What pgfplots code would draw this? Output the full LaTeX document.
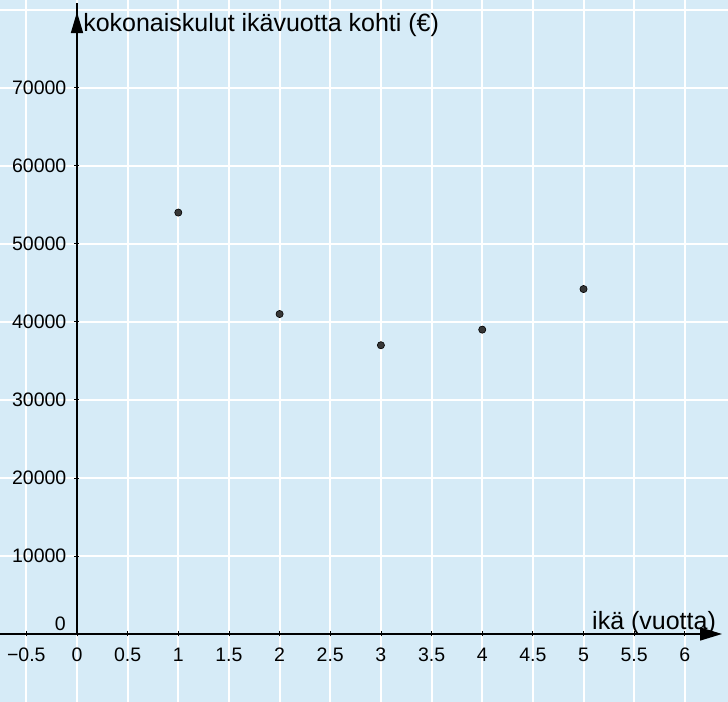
\documentclass[border=0pt]{standalone}
\usepackage{pgfplots}
\pgfplotsset{compat=1.18}
\usepackage{fontspec}
\setmainfont{Liberation Sans}
\usetikzlibrary{arrows.meta}
\definecolor{bgblue}{RGB}{214,235,247}
\definecolor{ptgray}{RGB}{55,55,55}
\begin{document}
\begin{tikzpicture}
\begin{axis}[
  scale only axis, width=728pt, height=702pt,
  xmin=-0.76, xmax=6.426, ymin=-8714, ymax=81240,
  axis lines=middle, axis line style={draw=none},
  axis background/.style={fill=bgblue},
  hide obscured x ticks=false, hide obscured y ticks=false,
  xtick={-0.5,0,0.5,1,1.5,2,2.5,3,3.5,4,4.5,5,5.5,6},
  xticklabels={−0.5,0,0.5,1,1.5,2,2.5,3,3.5,4,4.5,5,5.5,6},
  ytick={10000,20000,30000,40000,50000,60000,70000},
  yticklabels={10000,20000,30000,40000,50000,60000,70000},
  grid=major, grid style={white, line width=2pt},
  major tick length=5pt, tick style={black, line width=0.8pt},
  tick label style={font=\fontsize{19.5}{22}\selectfont, inner sep=0pt},
  xticklabel style={anchor=north, yshift=-11pt},
  yticklabel style={anchor=east, xshift=-8pt},
  clip=false,
]
\draw[white, line width=2pt] (axis cs:-0.76,80000) -- (axis cs:6.426,80000);
\addplot[only marks, mark=*, mark size=3.6pt, mark options={fill=ptgray, draw=black, line width=0.6pt}]
  coordinates {(1,54000) (2,41000) (3,37000) (4,39000) (5,44200)};
\draw[black, line width=1.6pt, -{Triangle[length=22pt,width=13pt]}] (axis cs:-0.76,0) -- (axis cs:6.367,0);
\draw[black, line width=1.6pt] (axis cs:0,0) -- (axis cs:0,80900);
\draw[black, line width=1.6pt, -{Triangle[length=21pt,width=12pt]}] (axis cs:0,0) -- (axis cs:0,79700);
\node[anchor=base west, inner sep=0pt, font=\fontsize{25}{30}\selectfont] at (axis cs:0.06,77140) {kokonaiskulut ikävuotta kohti (€)};
\node[anchor=base west, inner sep=0pt, font=\fontsize{25}{30}\selectfont] at (axis cs:5.084,513) {ikä (vuotta)};
\node[anchor=south east, inner sep=0pt, font=\fontsize{19.5}{22}\selectfont, xshift=-11pt, yshift=3pt] at (axis cs:0,0) {0};
\coordinate (sw) at (rel axis cs:0,0);
\coordinate (ne) at (rel axis cs:1,1);
\end{axis}
\pgfresetboundingbox
\path (sw) rectangle (ne);
\end{tikzpicture}
\end{document}
